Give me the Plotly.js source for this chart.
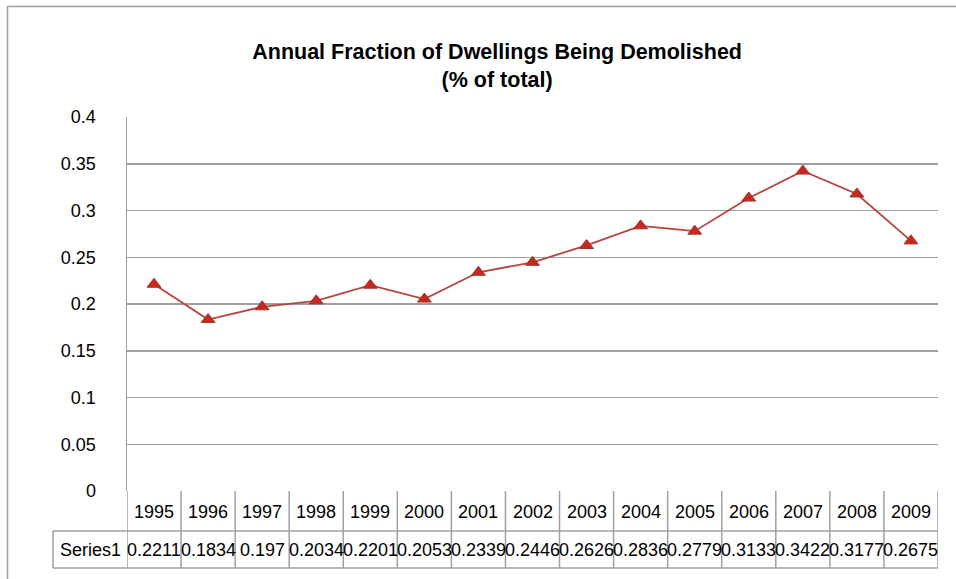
<!DOCTYPE html>
<html>
<head>
<meta charset="utf-8">
<script src="https://cdn.plot.ly/plotly-3.0.1.min.js"></script>
<style>html,body{margin:0;padding:0;background:#fff;}#chart{width:956px;height:579px;}</style>
</head>
<body>
<div id="chart"></div>
<script>
var years = ["1995","1996","1997","1998","1999","2000","2001","2002","2003","2004","2005","2006","2007","2008","2009"];
var values = [0.2211,0.1834,0.197,0.2034,0.2201,0.2053,0.2339,0.2446,0.2626,0.2836,0.2779,0.3133,0.3422,0.3177,0.2675];
var valueLabels = ["0.2211","0.1834","0.197","0.2034","0.2201","0.2053","0.2339","0.2446","0.2626","0.2836","0.2779","0.3133","0.3422","0.3177","0.2675"];
var seriesName = "Series1";
var yTicks = [0,0.05,0.1,0.15,0.2,0.25,0.3,0.35,0.4];
var yTickText = ["0","0.05","0.1","0.15","0.2","0.25","0.3","0.35","0.4"];

var W = 956, H = 579;
var L = 127, R = 18, T = 117, B = 88;
var pw = W - L - R, ph = H - T - B;
function py(p){ return (H - B - p) / ph; }   // pixel y -> paper y
function px(p){ return (p - L) / pw; }       // pixel x -> paper x

var gridCol = "#a0a0a0";
var font = "Liberation Sans, Arial, sans-serif";
var shapes = [];
var annotations = [];
var n = years.length;
var rowTop = py(491), rowMid = py(531), rowBot = py(568);

// table vertical lines
for (var i = 0; i <= n; i++) {
  shapes.push({type:"line", xref:"x", yref:"paper", x0:i-0.5, x1:i-0.5, y0:rowTop, y1:rowBot, line:{color:gridCol, width:1.5}});
}
// horizontal table lines
shapes.push({type:"line", xref:"paper", yref:"paper", x0:px(53), x1:1, y0:rowMid, y1:rowMid, line:{color:gridCol, width:1.5}});
shapes.push({type:"line", xref:"paper", yref:"paper", x0:px(53), x1:1, y0:rowBot, y1:rowBot, line:{color:gridCol, width:1.5}});
shapes.push({type:"line", xref:"paper", yref:"paper", x0:px(53), x1:px(53), y0:rowMid, y1:rowBot, line:{color:gridCol, width:1.5}});
// outer border
shapes.push({type:"line", xref:"paper", yref:"paper", x0:px(7.5), x1:px(7.5), y0:py(6), y1:py(590), line:{color:gridCol, width:1.5}});
shapes.push({type:"line", xref:"paper", yref:"paper", x0:px(7.5), x1:px(970), y0:py(6.5), y1:py(6.5), line:{color:gridCol, width:1.5}});

for (var j = 0; j < n; j++) {
  annotations.push({xref:"x", yref:"paper", x:j, y:py(512), text:years[j], showarrow:false, xanchor:"center", yanchor:"middle", font:{family:font, size:18, color:"#000"}});
  annotations.push({xref:"x", yref:"paper", x:j, y:py(550), text:valueLabels[j], showarrow:false, xanchor:"center", yanchor:"middle", font:{family:font, size:18, color:"#000"}});
}
annotations.push({xref:"paper", yref:"paper", x:px(90), y:py(550), text:seriesName, showarrow:false, xanchor:"center", yanchor:"middle", font:{family:font, size:18, color:"#000"}});

var trace = {
  x: years.map(function(y,i){return i;}),
  y: values,
  type: "scatter",
  mode: "lines+markers",
  name: seriesName,
  line: {color:"#b5443c", width:1.8},
  marker: {symbol:"triangle-up", size:12, color:"#c8281e", line:{color:"#a0342c", width:1}},
  hoverinfo: "y"
};

var layout = {
  width: W, height: H,
  margin: {l:L, r:R, t:T, b:B, pad:0},
  paper_bgcolor: "#fff", plot_bgcolor: "#fff",
  showlegend: false,
  title: {text:"<b>Annual Fraction of Dwellings Being Demolished<br>(% of total)</b>", x:0.52, xanchor:"center", y:1-59/H, yanchor:"middle", font:{family:font, size:21.5, color:"#000"}},
  xaxis: {range:[-0.5, n-0.5], showticklabels:false, showgrid:false, zeroline:false, showline:false, ticks:"", fixedrange:true},
  yaxis: {range:[0,0.4], tickvals:yTicks, ticktext:yTickText, showgrid:true, gridcolor:gridCol, gridwidth:1.5, zeroline:false, showline:true, linecolor:gridCol, linewidth:1.5, ticks:"", ticklabelstandoff:26, tickfont:{family:font, size:18, color:"#000"}, fixedrange:true},
  shapes: shapes,
  annotations: annotations
};
Plotly.newPlot("chart", [trace], layout, {displayModeBar:false, staticPlot:true});
</script>
</body>
</html>
